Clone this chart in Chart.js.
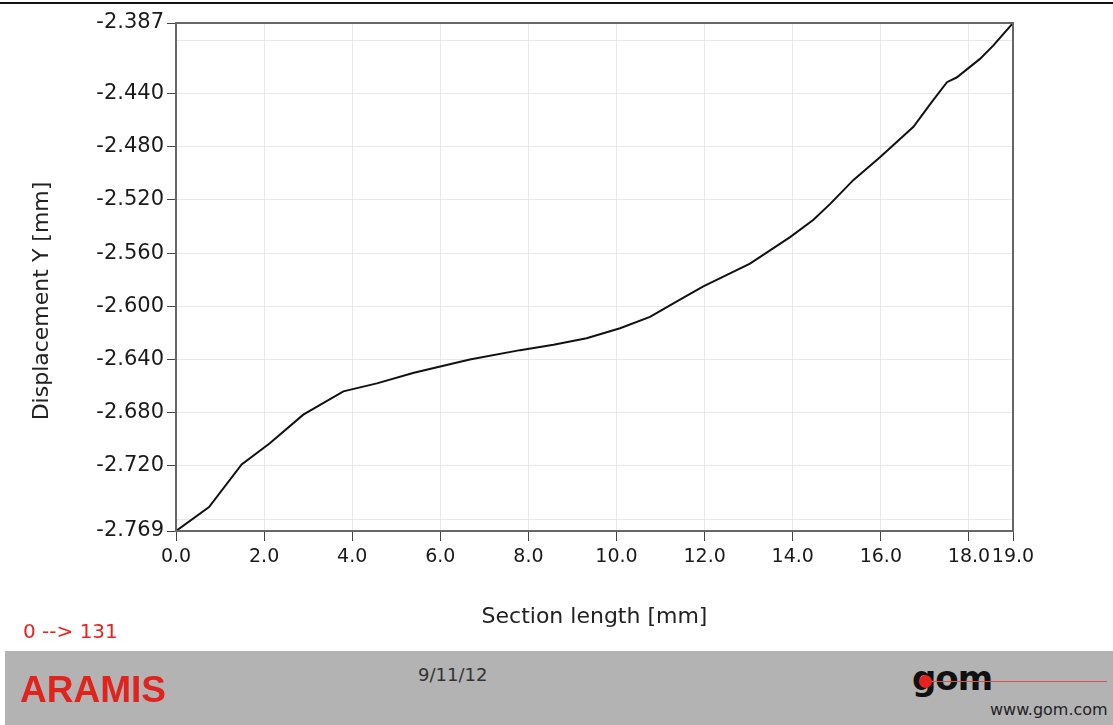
<!DOCTYPE html>
<html lang="en">

<head>
  <meta charset="UTF-8" />
  <title>Displacement Y - Section length</title>
  <script src="https://cdn.jsdelivr.net/npm/chart.js"></script>
  <style>
    body { margin: 0; width: 1113px; height: 725px; overflow: hidden; background: #fff; font-family: "DejaVu Sans", sans-serif; position: relative; }
    #topLine { position: absolute; left: 0; top: 2px; width: 1113px; height: 2px; background: #111; }
    #chartBox { position: absolute; left: 0; top: 0; width: 1113px; height: 650px; }
    #stage { position: absolute; left: 23px; top: 619px; color: #e8231f; font-size: 20px; }
    #footer { position: absolute; left: 5px; top: 651px; width: 1108px; height: 74px; background: #b3b3b3; }
    #aramis { position: absolute; left: 15px; top: 18px; color: #e0231c; font-family: "Liberation Sans", sans-serif; font-weight: bold; font-size: 37px; }
    #date { position: absolute; left: 413px; top: 13px; color: #333; font-size: 18px; }
    #gom { position: absolute; left: 907px; top: 7px; color: #111; font-family: "DejaVu Sans", sans-serif; font-weight: bold; font-size: 34px; letter-spacing: -1px; }
    #gomDot { position: absolute; left: 914px; top: 24px; width: 13px; height: 13px; border-radius: 50%; background: #e8231f; }
    #gomLine { position: absolute; left: 925px; top: 30px; width: 177px; height: 1px; background: #d9534f; }
    #www { position: absolute; left: 985px; top: 49px; color: #222; font-size: 16px; }
  </style>
</head>

<body>
  <div id="topLine"></div>
  <div id="chartBox"><canvas id="chartCanvas"></canvas></div>
  <div id="stage">0 --&gt; 131</div>
  <div id="footer">
    <div id="aramis">ARAMIS</div>
    <div id="date">9/11/12</div>
    <div id="gom">gom</div>
    <div id="gomLine"></div>
    <div id="gomDot"></div>
    <div id="www">www.gom.com</div>
  </div>

  <script>
    // values
    const sectionLength = [0, 0.75, 1.49, 2.13, 2.89, 3.80, 4.56, 5.40, 6.67, 7.81, 8.57, 9.32, 10.08, 10.76,
      11.44, 11.97, 13.03, 13.94, 14.47, 14.85, 15.38, 15.98, 16.74, 17.12, 17.50, 17.72, 18.25, 18.55, 19.0];
    const displacementY = [-2.769, -2.751, -2.719, -2.703, -2.6815, -2.664, -2.658, -2.650, -2.640, -2.633,
      -2.629, -2.624, -2.6165, -2.608, -2.595, -2.585, -2.568, -2.548, -2.535, -2.523, -2.505, -2.488, -2.465,
      -2.448, -2.4315, -2.428, -2.414, -2.404, -2.387];

    const xTicks = [0, 2, 4, 6, 8, 10, 12, 14, 16, 18, 19];
    const yTicks = [-2.769, -2.76, -2.72, -2.68, -2.64, -2.60, -2.56, -2.52, -2.48, -2.44, -2.40, -2.387];
    const yHidden = [-2.76, -2.40]; // grid only, no label
    const yTitle = 'Displacement Y [mm]';

    const isHidden = v => yHidden.some(h => Math.abs(h - v) < 1e-6);

    const framePlugin = {
      id: 'frame',
      afterDraw(chart) {
        const { ctx, chartArea } = chart;
        ctx.save();
        ctx.strokeStyle = '#666';
        ctx.lineWidth = 2;
        ctx.strokeRect(chartArea.left, chartArea.top, chartArea.right - chartArea.left, chartArea.bottom - chartArea.top);
        // y title, sits a bit below the middle like the original
        ctx.translate(42, 301);
        ctx.rotate(-Math.PI / 2);
        ctx.fillStyle = '#222';
        ctx.font = '22px "DejaVu Sans"';
        ctx.textAlign = 'center';
        ctx.textBaseline = 'middle';
        ctx.fillText(yTitle, 0, 0);
        ctx.restore();
      }
    };

    new Chart(document.getElementById('chartCanvas'), {
      type: 'line',
      data: {
        datasets: [{
          data: sectionLength.map((x, i) => ({ x: x, y: displacementY[i] })),
          borderColor: '#111',
          borderWidth: 2,
          pointRadius: 0,
          tension: 0,
          fill: false
        }]
      },
      options: {
        responsive: true,
        maintainAspectRatio: false,
        animation: false,
        layout: { padding: { left: 0, top: 23, right: 100, bottom: 0 } },
        plugins: { legend: { display: false }, tooltip: { enabled: false } },
        scales: {
          x: {
            type: 'linear',
            min: 0,
            max: 19,
            afterBuildTicks: axis => { axis.ticks = xTicks.map(v => ({ value: v })); },
            afterFit: axis => { axis.height = 119; },
            ticks: {
              autoSkip: false,
              maxRotation: 0,
              padding: 5,
              color: '#1a1a1a',
              font: { family: 'DejaVu Sans', size: 19 },
              callback: v => v.toFixed(1)
            },
            grid: { color: '#e8e8e8', tickLength: 10, tickColor: '#444' },
            border: { color: '#555', width: 2 },
            title: {
              display: true,
              text: 'Section length [mm]',
              color: '#222',
              font: { family: 'DejaVu Sans', size: 22 },
              padding: { top: 0, bottom: 20 }
            }
          },
          y: {
            type: 'linear',
            min: -2.769,
            max: -2.387,
            afterBuildTicks: axis => { axis.ticks = yTicks.map(v => ({ value: v })); },
            afterFit: axis => { axis.width = 176; },
            ticks: {
              padding: 3,
              color: '#1a1a1a',
              font: { family: 'DejaVu Sans', size: 21 },
              callback: v => isHidden(v) ? '' : v.toFixed(3)
            },
            grid: {
              color: '#e8e8e8',
              tickLength: 9,
              tickColor: c => (c.tick && isHidden(c.tick.value)) ? 'rgba(0,0,0,0)' : '#444'
            },
            border: { color: '#555', width: 2 }
          }
        }
      },
      plugins: [framePlugin]
    });
  </script>
</body>

</html>
